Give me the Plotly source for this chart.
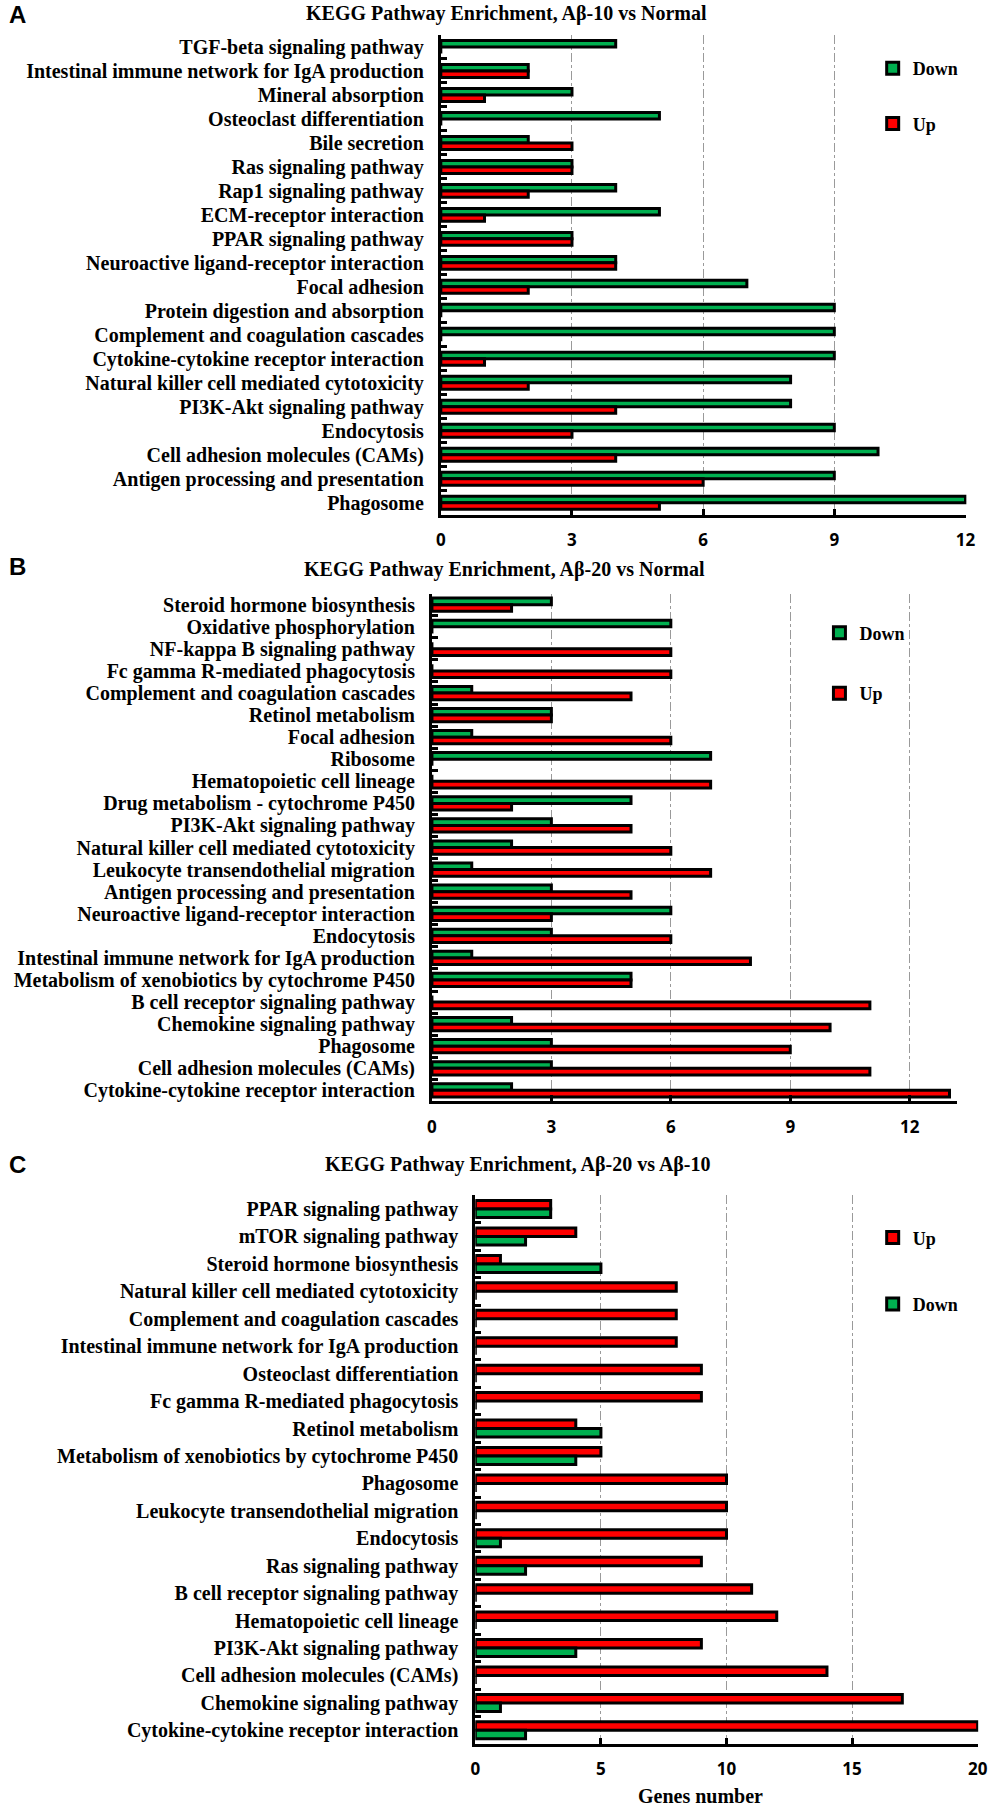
import plotly.graph_objects as go

# ---------------- Data ----------------
a_cats = ["TGF-beta signaling pathway", "Intestinal immune network for IgA production",
          "Mineral absorption", "Osteoclast differentiation", "Bile secretion",
          "Ras signaling pathway", "Rap1 signaling pathway", "ECM-receptor interaction",
          "PPAR signaling pathway", "Neuroactive ligand-receptor interaction",
          "Focal adhesion", "Protein digestion and absorption",
          "Complement and coagulation cascades", "Cytokine-cytokine receptor interaction",
          "Natural killer cell mediated cytotoxicity", "PI3K-Akt signaling pathway",
          "Endocytosis", "Cell adhesion molecules (CAMs)",
          "Antigen processing and presentation", "Phagosome"]
a_down = [4, 2, 3, 5, 2, 3, 4, 5, 3, 4, 7, 9, 9, 9, 8, 8, 9, 10, 9, 12]
a_up = [0, 2, 1, 0, 3, 3, 2, 1, 3, 4, 2, 0, 0, 1, 2, 4, 3, 4, 6, 5]

b_cats = ["Steroid hormone biosynthesis", "Oxidative phosphorylation",
          "NF-kappa B signaling pathway", "Fc gamma R-mediated phagocytosis",
          "Complement and coagulation cascades", "Retinol metabolism", "Focal adhesion",
          "Ribosome", "Hematopoietic cell lineage", "Drug metabolism - cytochrome P450",
          "PI3K-Akt signaling pathway", "Natural killer cell mediated cytotoxicity",
          "Leukocyte transendothelial migration", "Antigen processing and presentation",
          "Neuroactive ligand-receptor interaction", "Endocytosis",
          "Intestinal immune network for IgA production",
          "Metabolism of xenobiotics by cytochrome P450",
          "B cell receptor signaling pathway", "Chemokine signaling pathway", "Phagosome",
          "Cell adhesion molecules (CAMs)", "Cytokine-cytokine receptor interaction"]
b_down = [3, 6, 0, 0, 1, 3, 1, 7, 0, 5, 3, 2, 1, 3, 6, 3, 1, 5, 0, 2, 3, 3, 2]
b_up = [2, 0, 6, 6, 5, 3, 6, 0, 7, 2, 5, 6, 7, 5, 3, 6, 8, 5, 11, 10, 9, 11, 13]

c_cats = ["PPAR signaling pathway", "mTOR signaling pathway", "Steroid hormone biosynthesis",
          "Natural killer cell mediated cytotoxicity", "Complement and coagulation cascades",
          "Intestinal immune network for IgA production", "Osteoclast differentiation",
          "Fc gamma R-mediated phagocytosis", "Retinol metabolism",
          "Metabolism of xenobiotics by cytochrome P450", "Phagosome",
          "Leukocyte transendothelial migration", "Endocytosis", "Ras signaling pathway",
          "B cell receptor signaling pathway", "Hematopoietic cell lineage",
          "PI3K-Akt signaling pathway", "Cell adhesion molecules (CAMs)",
          "Chemokine signaling pathway", "Cytokine-cytokine receptor interaction"]
c_up = [3, 4, 1, 8, 8, 8, 9, 9, 4, 5, 10, 10, 10, 9, 11, 12, 9, 14, 17, 20]
c_down = [3, 2, 5, 0, 0, 0, 0, 0, 5, 4, 0, 0, 1, 2, 0, 0, 4, 0, 1, 2]

a_ticks = [0, 3, 6, 9, 12]
b_ticks = [0, 3, 6, 9, 12]
c_ticks = [0, 5, 10, 15, 20]

titles = ["KEGG Pathway Enrichment, Aβ-10 vs Normal",
          "KEGG Pathway Enrichment, Aβ-20 vs Normal",
          "KEGG Pathway Enrichment, Aβ-20 vs Aβ-10"]
letters = ["A", "B", "C"]

# ---------------- Style ----------------
GREEN = "#00b050"
RED = "#ff0000"
SERIF = "Liberation Serif"
SANS = "Open Sans"
W, H = 1000, 1810


def px(sx):
    return sx / W


def py(sy):
    return 1 - sy / H


fig = go.Figure()


def bar(cats, vals, name, color, ax, legend, w, off, group):
    fig.add_trace(go.Bar(
        y=cats, x=vals, orientation="h", name=name,
        marker=dict(color=color, line=dict(color="black", width=3)),
        width=w, offset=off,
        xaxis="x" + ax, yaxis="y" + ax, legend=legend, legendgroup=group,
        hoverinfo="x+y",
    ))


# Panel A: Down on top, Up below
bar(a_cats, a_down, "Down", GREEN, "", "legend", 0.27, -0.27, "a1")
bar(a_cats, a_up, "Up", RED, "", "legend", 0.27, 0.0, "a2")
# Panel B
bar(b_cats, b_down, "Down", GREEN, "2", "legend2", 0.30, -0.30, "b1")
bar(b_cats, b_up, "Up", RED, "2", "legend2", 0.30, 0.0, "b2")
# Panel C: Up on top, Down below
bar(c_cats, c_up, "Up", RED, "3", "legend3", 0.31, -0.31, "c1")
bar(c_cats, c_down, "Down", GREEN, "3", "legend3", 0.31, 0.0, "c2")


def xaxis(domain, rng, ticks, anchor):
    return dict(domain=domain, range=rng, tickvals=ticks, anchor=anchor,
                showline=True, linecolor="black", linewidth=3,
                ticks="inside", ticklen=6, tickwidth=3, tickcolor="black",
                showgrid=True, gridcolor="#9a9a9a", griddash="dashdot", gridwidth=1,
                zeroline=False, fixedrange=True,
                tickfont=dict(family=SANS, size=17, color="black", weight="bold"),
                ticklabelstandoff=8)


def yaxis(domain, cats, anchor):
    return dict(domain=domain, anchor=anchor, type="category",
                categoryorder="array", categoryarray=cats, autorange="reversed",
                tickmode="linear", tick0=0, dtick=1, fixedrange=True,
                showline=True, linecolor="black", linewidth=3,
                ticks="inside", tickson="boundaries", ticklen=6, tickwidth=3,
                tickcolor="black", showgrid=False, zeroline=False,
                tickfont=dict(family=SERIF, size=20, color="black", weight="bold"),
                ticklabelstandoff=10)


legend_font = dict(family=SERIF, size=18, color="black", weight="bold")

fig.update_layout(
    width=W, height=H,
    margin=dict(l=0, r=0, t=0, b=0),
    paper_bgcolor="white", plot_bgcolor="white",
    barmode="overlay",
    xaxis=xaxis([px(442), px(975)], [0, 12.02], a_ticks, "y"),
    yaxis=yaxis([py(515), py(35)], a_cats, "x"),
    xaxis2=xaxis([px(433), px(966)], [0, 13.2], b_ticks, "y2"),
    yaxis2=yaxis([py(1102), py(594)], b_cats, "x2"),
    xaxis3=xaxis([px(477), px(987)], [0, 20.02], c_ticks, "y3"),
    yaxis3=yaxis([py(1745), py(1196)], c_cats, "x3"),
    legend=dict(x=px(880), y=py(50), xanchor="left", yanchor="top",
                traceorder="grouped", tracegroupgap=29, font=legend_font,
                bgcolor="rgba(0,0,0,0)"),
    legend2=dict(x=px(826), y=py(615), xanchor="left", yanchor="top",
                 traceorder="grouped", tracegroupgap=34, font=legend_font,
                 bgcolor="rgba(0,0,0,0)"),
    legend3=dict(x=px(880), y=py(1220), xanchor="left", yanchor="top",
                 traceorder="grouped", tracegroupgap=40, font=legend_font,
                 bgcolor="rgba(0,0,0,0)"),
)

title_pos = [(509, 14), (507, 570), (520, 1165)]
letter_pos = [(13, 15), (13, 567), (13, 1165)]
for t, (tx, ty) in zip(titles, title_pos):
    fig.add_annotation(text=t, x=px(tx), y=py(ty), xref="paper", yref="paper",
                       showarrow=False, xanchor="center", yanchor="middle",
                       font=dict(family=SERIF, size=20, color="black", weight="bold"))
for L, (lx, ly) in zip(letters, letter_pos):
    fig.add_annotation(text=L, x=px(lx), y=py(ly), xref="paper", yref="paper",
                       showarrow=False, xanchor="center", yanchor="middle",
                       font=dict(family="Liberation Sans", size=24, color="black", weight="bold"))

fig.add_annotation(text="Genes number", x=px(705), y=py(1797), xref="paper", yref="paper",
                   showarrow=False, xanchor="center", yanchor="middle",
                   font=dict(family=SERIF, size=20, color="black", weight="bold"))

# remove the default page margin so the figure fills the window exactly
fig.write_html("out.html", config={"displayModeBar": False},
               post_script="document.body.style.margin='0px';")
